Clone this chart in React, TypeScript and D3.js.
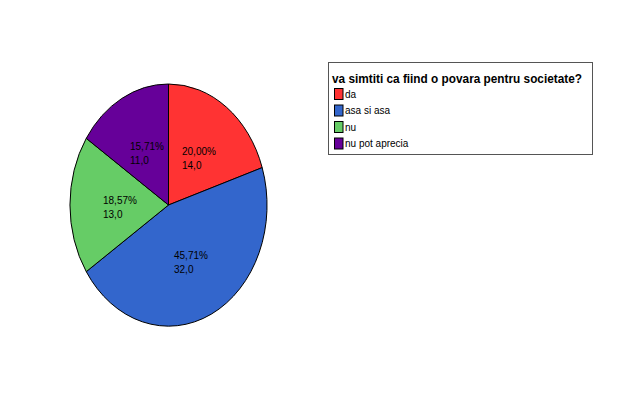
import React from "react";
import * as d3 from "d3";

const categories = ["da", "asa si asa", "nu", "nu pot aprecia"];
const counts = [14, 32, 13, 11];
const percentLabels = ["20,00%", "45,71%", "18,57%", "15,71%"];
const countLabels = ["14,0", "32,0", "13,0", "11,0"];
const colors = ["#ff3333", "#3366cc", "#66cc66", "#660099"];
const title = "va simtiti ca fiind o povara pentru societate?";

const W = 623, H = 413;
const cx = 168.5, cy = 205, rx = 98.5, ry = 121;
// label offsets (in unit-circle space, radius fraction) handled via centroid
const labelLeft = [182, 174, 103, 130];
const labelTop = [151.5, 255, 200, 146];

export default function App() {
  const pie = d3.pie<number>().sort(null).value(d => d);
  const arcs = pie(counts);
  const arc = d3.arc<d3.PieArcDatum<number>>().innerRadius(0).outerRadius(1);
  const font = "'Liberation Sans', Arial, sans-serif";
  return (
    <svg width={W} height={H} style={{ position: "absolute", left: 0, top: 0, background: "#fff" }}>
      <g transform={`translate(${cx},${cy}) scale(${rx},${ry})`}>
        {arcs.map((a, i) => (
          <path key={i} d={arc(a) || ""} fill={colors[i]} stroke="#000" strokeWidth={1} vectorEffect="non-scaling-stroke" />
        ))}
      </g>
      {arcs.map((a, i) => (
        <g key={"l" + i} fontFamily={font} fontSize={10} fill="#000">
          <text x={labelLeft[i]} y={labelTop[i] + 3.5}>{percentLabels[i]}</text>
          <text x={labelLeft[i]} y={labelTop[i] + 17.5}>{countLabels[i]}</text>
        </g>
      ))}
      <rect x={328.5} y={62.5} width={264} height={92} fill="#fff" stroke="#555" strokeWidth={1} />
      <text x={332} y={83} fontFamily={font} fontSize={12.5} fontWeight="bold" textLength={250} lengthAdjust="spacingAndGlyphs">{title}</text>
      {categories.map((c, i) => (
        <g key={"g" + i}>
          <rect x={334.5} y={88.5 + i * 16.5} width={8.5} height={11} fill={colors[i]} stroke="#000" strokeWidth={1} />
          <text x={345} y={97.5 + i * 16.5} fontFamily={font} fontSize={10}>{c}</text>
        </g>
      ))}
    </svg>
  );
}
